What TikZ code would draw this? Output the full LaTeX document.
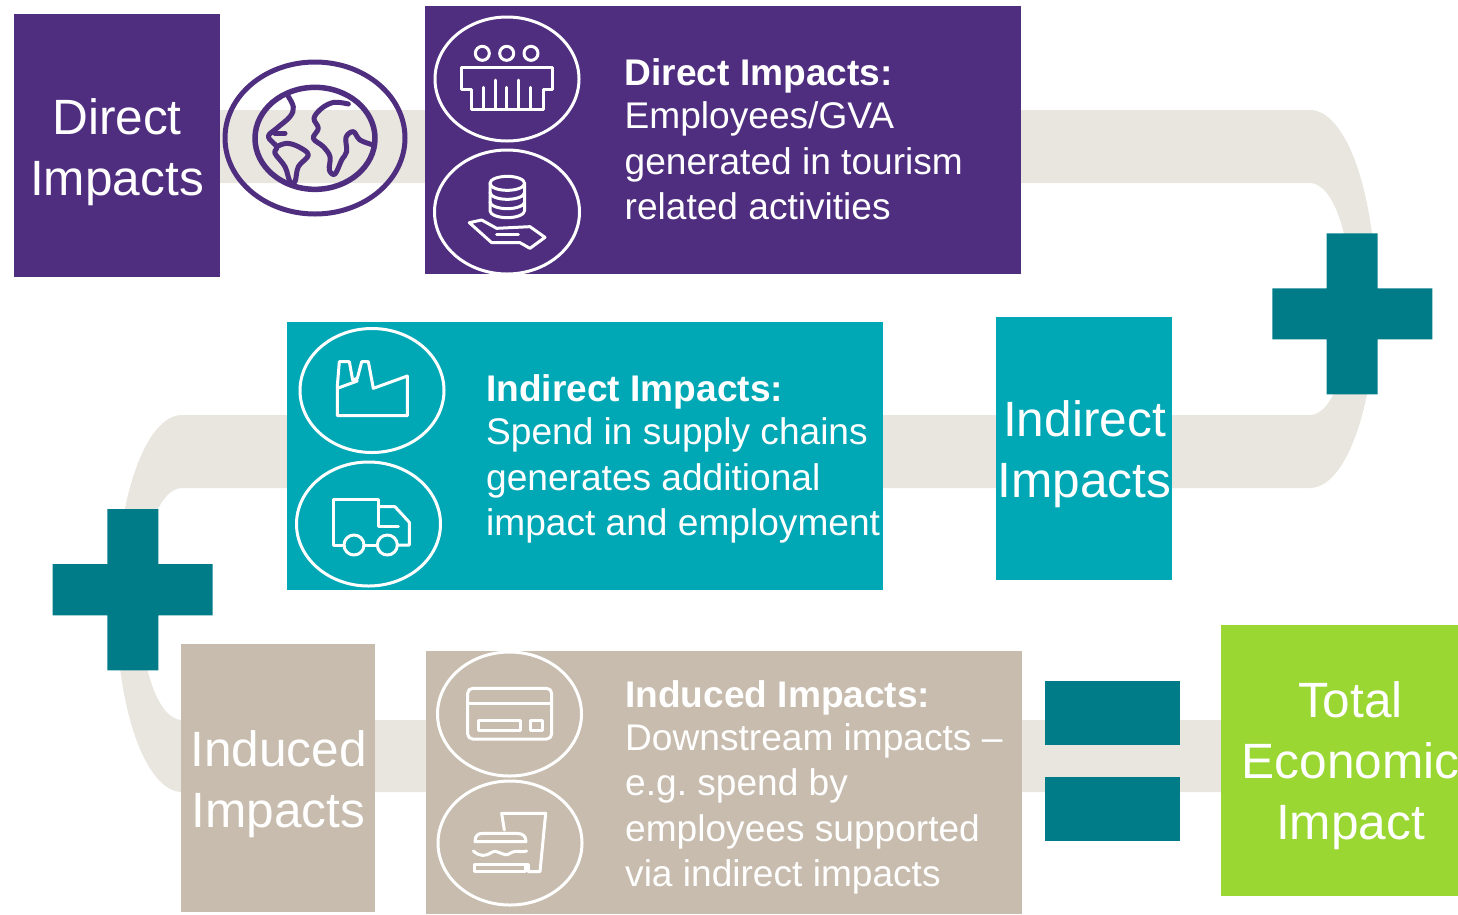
\documentclass[tikz,border=0pt]{standalone}
\usepackage{fontspec}
\setmainfont{Liberation Sans}
\frenchspacing
\definecolor{purp}{HTML}{4F2D7F}
\definecolor{teal1}{HTML}{00A7B5}
\definecolor{teal2}{HTML}{007C89}
\definecolor{tan1}{HTML}{C7BCAD}
\definecolor{band}{HTML}{E8E6DF}
\definecolor{lime}{HTML}{9AD733}
\tikzset{
  bigtext/.style={text=white,align=center,inner sep=0pt,font=\fontsize{49.6}{61}\selectfont},
  detail/.style={text=white,align=left,inner sep=0pt,anchor=west,font=\fontsize{37.1}{45.5}\selectfont},
  ring/.style={draw=white,line width=3pt},
  icon/.style={draw=white,line width=3pt,line join=round,line cap=round},
  land/.style={draw=purp,line width=5pt,line join=round,line cap=round},
  zoomed/.style={x=0.33333pt,y=-0.33333pt},
}
\newcommand{\boxat}[6]{\fill[#6] (#2,#3) rectangle (#4,#5); \coordinate (#1) at ({(#2+#4)/2},{(#3+#5)/2});}
\begin{document}
\begin{tikzpicture}[x=1pt,y=-1pt]
\useasboundingbox (0,0) rectangle (1458,914);
% band
\fill[band] (220,110) -- (1310,110) arc[start angle=90,end angle=-90,x radius=66pt,y radius=189pt]
  -- (182,488) arc[start angle=90,end angle=270,x radius=42pt,y radius=116pt]
  -- (1222,720) -- (1222,792) -- (182,792) arc[start angle=270,end angle=90,x radius=66pt,y radius=188.5pt]
  -- (1310,415) arc[start angle=-90,end angle=90,x radius=41pt,y radius=116pt]
  -- (220,183) -- cycle;
% boxes
\boxat{a}{14}{14}{220}{277}{purp}
\boxat{b}{425}{6}{1021}{274}{purp}
\boxat{c}{287}{322}{883}{590}{teal1}
\boxat{d}{996}{317}{1172}{580}{teal1}
\boxat{e}{181}{644}{375}{912}{tan1}
\boxat{f}{426}{651}{1022}{914}{tan1}
\boxat{g}{1221}{625}{1458}{896}{lime}
% equals
\fill[teal2] (1045,681) rectangle (1180,745);
\fill[teal2] (1045,777) rectangle (1180,841);
% plus signs
\fill[teal2] (1326.7,233.3) -- (1377.7,233.3) -- (1377.7,288.3) -- (1432.3,288.3) -- (1432.3,339.3) -- (1377.7,339.3) -- (1377.7,394.3) -- (1326.7,394.3) -- (1326.7,339.3) -- (1272.3,339.3) -- (1272.3,288.3) -- (1326.7,288.3) -- cycle;
\fill[teal2] (107.3,509) -- (158.3,509) -- (158.3,564) -- (212.7,564) -- (212.7,615.3) -- (158.3,615.3) -- (158.3,670.3) -- (107.3,670.3) -- (107.3,615.3) -- (52.7,615.3) -- (52.7,564) -- (107.3,564) -- cycle;
% big labels
\node[bigtext] (ta) at (117,152) {Direct\\Impacts};
\node[bigtext] (td) at (1084.5,454.5) {Indirect\\Impacts};
\node[bigtext] (te) at (278.5,784) {Induced\\Impacts};
\node[bigtext] (tg) at (1350.5,766) {Total\\Economic\\Impact};
% detail texts
\node[detail] (tb) at (624.5,139.5) {\textbf{Direct Impacts:}\\[-2.5pt]Employees/GVA\\generated in tourism\\related activities};
\node[detail] (tc) at (486,459) {\textbf{Indirect Impacts:}\\[-2.5pt]Spend in supply chains\\generates additional\\impact and employment};
\node[detail] (tf) at (625,787.5) {\textbf{Induced Impacts:}\\[-2.5pt]Downstream impacts --\\e.g. spend by\\employees supported\\via indirect impacts};
% globe
\draw[purp,line width=5pt] (315,138) ellipse[x radius=90pt,y radius=76pt];
\begin{scope}[shift={(210,0)},zoomed]
\draw[land,line width=5.5pt] (315,415) ellipse[x radius=60pt,y radius=51pt];
\draw[land] plot[smooth,tension=0.6] coordinates {(415,312) (372,307) (335,325) (312,355) (325,385) (310,415) (340,440) (360,470) (358,510) (375,522) (395,480) (410,455) (408,412) (430,395) (450,420) (490,435)};
\draw[land] plot[smooth,tension=0.6] coordinates {(232,285) (250,320) (240,350) (200,385) (175,410) (200,440) (195,460) (225,500) (240,545) (255,545) (265,500) (295,465) (265,440) (230,430) (200,440)};
\draw[land] (195,400) -- (225,400);
\end{scope}
% rings
\draw[ring] (507,79) ellipse[x radius=72pt,y radius=62pt];
\draw[ring] (507,212) ellipse[x radius=72.5pt,y radius=62pt];
\draw[ring] (372,390.5) ellipse[x radius=72pt,y radius=62pt];
\draw[ring] (368.5,524) ellipse[x radius=72pt,y radius=62pt];
\draw[ring] (509.5,714) ellipse[x radius=72pt,y radius=62pt];
\draw[ring] (510,843) ellipse[x radius=72pt,y radius=62pt];
% register icon
\begin{scope}[shift={(210,0)},zoomed]
\foreach \cx in {817,890,963} \draw[icon] (\cx,160) circle[radius=7pt];
\draw[icon] (755,203) -- (1027,203) -- (1027,268) -- (1000,268) -- (1000,327) -- (785,327) -- (785,268) -- (755,268) -- cycle;
\foreach \bx/\by in {820/262,855/240,890/262,925/240,960/262} \draw[icon] (\bx,327) -- (\bx,\by);
% coins in hand
\draw[icon] (840,550) arc[start angle=180,end angle=-180,x radius=17.3pt,y radius=7pt];
\draw[icon] (840,550) -- (840,632) arc[start angle=180,end angle=360,x radius=17.3pt,y radius=7pt] -- (944,550);
\draw[icon] (840,577) arc[start angle=180,end angle=360,x radius=17.3pt,y radius=7pt];
\draw[icon] (840,605) arc[start angle=180,end angle=360,x radius=17.3pt,y radius=7pt];
\draw[icon] (778,668) -- (815,660) -- (860,685) -- (960,680) -- (1005,712) -- (960,745) -- (930,728) -- (845,728) -- cycle;
\draw[icon] (860,703) -- (925,703);
\end{scope}
% factory and truck
\begin{scope}[shift={(280,315)},zoomed]
\draw[icon] (172,302) -- (382,302) -- (382,183) -- (280,220) -- (265,140) -- (245,140) -- (232,190) -- (218,195) -- (208,140) -- (178,140) -- (172,213) -- cycle;
\draw[icon] (172,220) -- (232,198);
\draw[icon] (192,690) -- (160,690) -- (160,552) -- (295,552) -- (295,635) -- (355,635);
\draw[icon] (295,575) -- (345,575) -- (388,622) -- (388,690) -- (352,690);
\draw[icon] (222,690) circle[radius=10pt];
\draw[icon] (322,690) circle[radius=10pt];
\draw[icon] (252,690) -- (292,690);
\end{scope}
% card and food
\begin{scope}[shift={(425,645)},zoomed]
\draw[icon,rounded corners=5pt] (128,130) rectangle (380,282);
\draw[icon] (128,175) -- (380,175);
\draw[icon] (160,225) rectangle (285,255);
\draw[icon] (315,225) rectangle (352,255);
\draw[icon] (238,555) -- (230,505) -- (362,505) -- (345,680) -- (310,680);
\draw[icon] (300,658) -- (310,658) -- (310,680);
\draw[icon] (148,658) rectangle (300,680);
\draw[icon] (150,590) .. controls (150,570) and (160,565) .. (175,565) -- (275,565) .. controls (295,565) and (303,575) .. (303,590) -- cycle;
\draw[icon] (145,618) .. controls (165,635) and (180,635) .. (200,622) .. controls (220,610) and (235,640) .. (255,625) .. controls (275,612) and (290,625) .. (305,618);
\end{scope}
\end{tikzpicture}
\end{document}
